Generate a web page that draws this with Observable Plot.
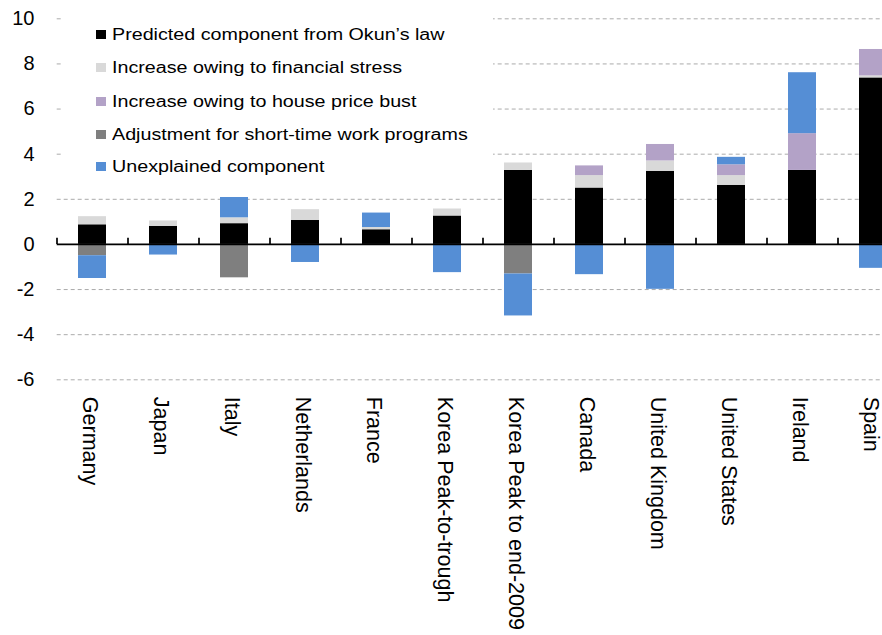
<!DOCTYPE html>
<html>
<head>
<meta charset="utf-8">
<script src="https://cdn.jsdelivr.net/npm/d3@7"></script>
<script src="https://cdn.jsdelivr.net/npm/@observablehq/plot@0.6"></script>
<style>
html, body { margin: 0; padding: 0; background: #fff; overflow: hidden; }
#wrap { position: relative; width: 882px; height: 635px; }
#legend { position: absolute; left: 63px; top: 4px; width: 430px; height: 184px; background: #fff;
  font-family: "Liberation Sans", Arial, sans-serif; }
.item { position: absolute; left: 33px; height: 20px; display: flex; align-items: center; white-space: nowrap; }
.sw { width: 10px; height: 9px; margin-right: 5.5px; flex: none; }
.lab { font-size: 17.3px; transform: scaleX(1.14); transform-origin: left center; color: #000; }
</style>
</head>
<body>
<div id="wrap"><div id="chart"></div><div id="legend"></div></div>
<script>
// ---- data ----
const categories = ["Germany", "Japan", "Italy", "Netherlands", "France", "Korea Peak-to-trough",
  "Korea Peak to end-2009", "Canada", "United Kingdom", "United States", "Ireland", "Spain"];
const seriesNames = ["Predicted component from Okun\u2019s law", "Increase owing to financial stress",
  "Increase owing to house price bust", "Adjustment for short-time work programs", "Unexplained component"];
const predicted   = [0.87, 0.80, 0.92, 1.06, 0.65, 1.26, 3.28, 2.50, 3.24, 2.62, 3.28, 7.38];
const financial   = [0.36, 0.24, 0.26, 0.48, 0.10, 0.31, 0.33, 0.55, 0.46, 0.43, 0.00, 0.09];
const houseBust   = [0.00, 0.00, 0.00, 0.00, 0.00, 0.00, 0.00, 0.43, 0.73, 0.48, 1.63, 1.17];
const shortTime   = [-0.50, 0.00, -1.48, 0.00, 0.00, 0.00, -1.31, 0.00, 0.00, 0.00, 0.00, 0.00];
const unexplained = [-1.01, -0.47, 0.90, -0.80, 0.64, -1.25, -1.86, -1.34, -1.99, 0.33, 2.70, -1.06];
const yTicks = [-6, -4, -2, 0, 2, 4, 6, 8, 10];
const colors = ["#000000", "#d9d9d9", "#b3a2c7", "#7f7f7f", "#558ed5"];

const seriesValues = [predicted, financial, houseBust, shortTime, unexplained];
const rows = categories.flatMap((c, i) =>
  seriesNames.map((s, j) => ({category: c, series: s, value: seriesValues[j][i]})));

const FONT = "Liberation Sans, Arial, sans-serif";
const top0 = 18.3, bottom0 = 379.3;
const left0 = 56.7, step = 71;

const plot = Plot.plot({
  width: 882,
  height: 635,
  marginTop: top0,
  marginBottom: 635 - bottom0,
  marginLeft: left0,
  marginRight: 0,
  x: {domain: categories, range: [left0, left0 + step * categories.length], paddingInner: 0.6, paddingOuter: 0.3, axis: null},
  y: {domain: [-6, 10], axis: null},
  color: {domain: seriesNames, range: colors},
  style: {fontFamily: FONT, background: "white", color: "black", overflow: "hidden"},
  marks: [
    Plot.ruleY(yTicks.filter(v => v !== 0), {stroke: "#ababab", strokeDasharray: "4,3", strokeWidth: 1}),
    Plot.barY(rows, Plot.stackY({x: "category", y: "value", fill: "series", order: seriesNames})),
    Plot.ruleY([0], {stroke: "black", strokeWidth: 1.7}),
    Plot.ruleX(categories, {x: d => d, y1: 0, y2: 0.27, dx: -step / 2, stroke: "black", strokeWidth: 1.7}),
    Plot.text(yTicks, {y: d => d, text: d => String(d), frameAnchor: "left", textAnchor: "end", dx: -22.7, fontSize: 20, fill: "black"}),
    Plot.text(categories, {x: d => d, text: d => d, frameAnchor: "bottom", rotate: 90, textAnchor: "start",
      dy: 17, dx: -10, fontSize: 21.5, fill: "black"})
  ]
});
document.getElementById("chart").appendChild(plot);

// ---- legend ----
const legend = document.getElementById("legend");
const rowCenters = [34.2, 67.6, 101.0, 134.2, 166.8];
seriesNames.forEach((name, i) => {
  const item = document.createElement("div");
  item.className = "item";
  item.style.top = (rowCenters[i] - 4 - 10) + "px";
  const sw = document.createElement("div");
  sw.className = "sw";
  sw.style.background = colors[i];
  const lab = document.createElement("span");
  lab.className = "lab";
  lab.textContent = name;
  item.appendChild(sw);
  item.appendChild(lab);
  legend.appendChild(item);
});
</script>
</body>
</html>
